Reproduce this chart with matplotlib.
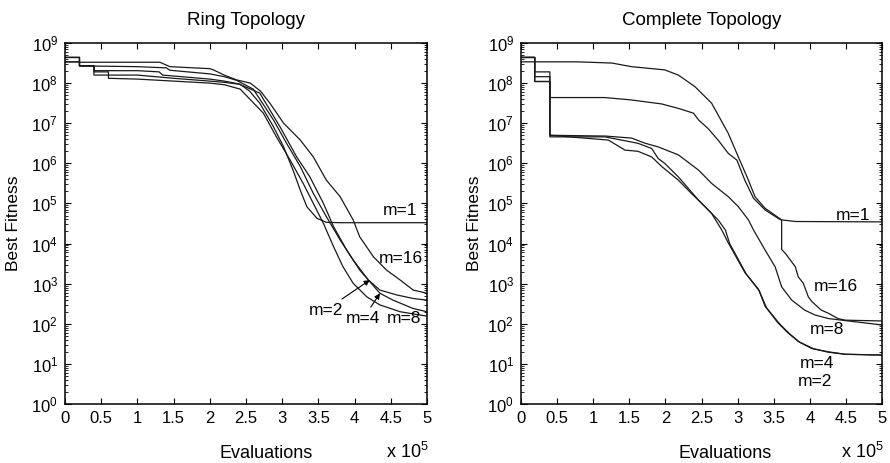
import numpy as np
import matplotlib
matplotlib.use("Agg")
import matplotlib.pyplot as plt

plt.rcParams['font.family'] = ['Liberation Sans', 'DejaVu Sans']
plt.rcParams['mathtext.fontset'] = 'custom'
plt.rcParams['mathtext.rm'] = 'Liberation Sans'

# evaluations in units of 1e5, best fitness as log10 values
#region Ring topology data
ring_m1_x = [0, 0.2, 0.2, 0.4, 0.4, 1.0, 1.5, 2.0, 2.2, 2.42, 2.55, 2.69, 2.88, 3.02, 3.15, 3.25, 3.34, 3.48, 3.61, 3.8, 4.5, 5.0]
ring_m1_y = [8.53, 8.53, 8.43, 8.43, 8.20, 8.20, 8.12, 8.05, 8.02, 7.97, 7.8, 7.5, 6.91, 6.41, 5.83, 5.33, 4.92, 4.63, 4.53, 4.52, 4.52, 4.52]

ring_m2_x = [0, 0.2, 0.2, 1.0, 1.4, 1.45, 2.0, 2.2, 2.37, 2.6, 2.88, 3.06, 3.25, 3.43, 3.61, 3.80, 3.98, 4.19, 4.35, 4.58, 4.81, 5.0]
ring_m2_y = [8.64, 8.64, 8.43, 8.41, 8.38, 8.32, 8.23, 8.16, 8.07, 7.85, 7.08, 6.50, 5.92, 5.25, 4.67, 4.09, 3.59, 3.09, 2.84, 2.72, 2.63, 2.59]

ring_m4_x = [0, 0.2, 0.2, 0.4, 0.4, 1.0, 1.3, 1.35, 2.0, 2.2, 2.4, 2.69, 2.97, 3.20, 3.38, 3.57, 3.71, 3.89, 4.07, 4.35, 4.53, 4.81, 5.0]
ring_m4_y = [8.64, 8.64, 8.43, 8.43, 8.31, 8.31, 8.28, 8.2, 8.10, 8.05, 7.98, 7.75, 6.91, 6.16, 5.67, 5.0, 4.42, 3.84, 3.34, 2.76, 2.59, 2.38, 2.30]

ring_m8_x = [0, 0.2, 0.2, 0.4, 0.4, 0.6, 0.6, 1.0, 1.4, 2.0, 2.2, 2.42, 2.74, 2.92, 3.11, 3.29, 3.43, 3.57, 3.71, 3.84, 3.98, 4.17, 4.35, 4.63, 5.0]
ring_m8_y = [8.53, 8.53, 8.43, 8.43, 8.28, 8.28, 8.12, 8.10, 8.06, 8.0, 7.96, 7.85, 7.25, 6.66, 6.08, 5.50, 5.0, 4.50, 3.92, 3.42, 3.01, 2.67, 2.47, 2.30, 2.19]

ring_m16_x = [0, 0.2, 0.2, 1.0, 1.31, 1.45, 2.0, 2.05, 2.2, 2.37, 2.56, 2.7, 2.83, 3.02, 3.25, 3.43, 3.61, 3.80, 3.98, 4.07, 4.26, 4.44, 4.63, 4.81, 5.0]
ring_m16_y = [8.64, 8.64, 8.52, 8.52, 8.52, 8.41, 8.36, 8.33, 8.2, 8.08, 8.0, 7.8, 7.5, 7.0, 6.58, 6.16, 5.58, 5.17, 4.59, 4.17, 3.67, 3.34, 3.09, 2.84, 2.76]
#endregion

#region Complete topology data
comp_m1_x = [0, 0.79, 1.26, 1.53, 1.99, 2.18, 2.41, 2.64, 2.87, 3.01, 3.15, 3.24, 3.38, 3.61, 3.80, 5.0]
comp_m1_y = [8.53, 8.53, 8.50, 8.41, 8.33, 8.20, 7.91, 7.50, 6.75, 6.16, 5.58, 5.17, 4.88, 4.59, 4.55, 4.54]

comp_m2_x = [0, 0.19, 0.19, 0.40, 0.40, 1.16, 1.62, 1.81, 1.90, 1.99, 2.18, 2.46, 2.64, 2.78, 2.87, 3.10, 3.29, 3.38, 3.56, 3.70, 3.84, 4.03, 4.26, 4.49, 5.0]
comp_m2_y = [8.64, 8.64, 8.04, 8.04, 6.66, 6.66, 6.50, 6.37, 6.12, 6.0, 5.66, 5.08, 4.75, 4.34, 4.02, 3.28, 2.86, 2.44, 2.02, 1.77, 1.56, 1.38, 1.30, 1.24, 1.22]

comp_m4_x = [0, 0.19, 0.19, 0.40, 0.40, 1.21, 1.44, 1.62, 1.81, 1.95, 2.18, 2.36, 2.55, 2.73, 2.83, 2.89, 3.12, 3.30, 3.40, 3.58, 3.72, 3.86, 4.05, 4.26, 4.49, 5.0]
comp_m4_y = [8.64, 8.64, 8.04, 8.04, 6.70, 6.58, 6.33, 6.30, 6.16, 5.92, 5.58, 5.25, 4.92, 4.59, 4.34, 4.0, 3.24, 2.82, 2.40, 2.0, 1.75, 1.54, 1.38, 1.29, 1.24, 1.22]

comp_m8_x = [0, 0.19, 0.19, 0.40, 0.40, 1.17, 1.53, 1.72, 1.90, 2.18, 2.46, 2.64, 2.87, 3.01, 3.15, 3.22, 3.38, 3.52, 3.61, 3.75, 3.93, 4.07, 4.26, 4.49, 5.0]
comp_m8_y = [8.64, 8.64, 8.28, 8.28, 6.70, 6.68, 6.63, 6.50, 6.41, 6.21, 5.83, 5.50, 5.17, 4.92, 4.59, 4.34, 3.84, 3.42, 2.92, 2.59, 2.34, 2.22, 2.13, 2.08, 1.97]

comp_m16_x = [0, 0.19, 0.19, 0.40, 0.40, 1.16, 1.53, 1.95, 2.18, 2.39, 2.46, 2.59, 2.73, 2.87, 2.99, 3.10, 3.22, 3.38, 3.56, 3.61, 3.61, 3.66, 3.80, 3.84, 3.91, 3.98, 4.03, 4.16, 4.26, 4.39, 4.49, 5.0]
comp_m16_y = [8.64, 8.64, 8.16, 8.16, 7.64, 7.64, 7.58, 7.48, 7.37, 7.25, 7.08, 6.87, 6.58, 6.25, 6.08, 5.58, 5.13, 4.84, 4.63, 4.58, 3.85, 3.76, 3.42, 3.17, 3.01, 2.67, 2.55, 2.34, 2.26, 2.13, 2.09, 2.07]
#endregion

xtick_vals = [0, 0.5, 1, 1.5, 2, 2.5, 3, 3.5, 4, 4.5, 5]
xtick_labels = ['0', '0.5', '1', '1.5', '2', '2.5', '3', '3.5', '4', '4.5', '5']

ring_curves = [(ring_m1_x, ring_m1_y), (ring_m2_x, ring_m2_y), (ring_m4_x, ring_m4_y),
               (ring_m8_x, ring_m8_y), (ring_m16_x, ring_m16_y)]
comp_curves = [(comp_m1_x, comp_m1_y), (comp_m2_x, comp_m2_y), (comp_m4_x, comp_m4_y),
               (comp_m8_x, comp_m8_y), (comp_m16_x, comp_m16_y)]

# label positions (x, log10 y)
ring_labels = [("m=1", 4.63, 4.82), ("m=16", 4.64, 3.63), ("m=8", 4.68, 2.13)]
ring_arrows = [("m=2", 3.60, 2.34, 4.21, 3.09), ("m=4", 4.12, 2.13, 4.35, 2.76)]
comp_labels = [("m=1", 4.6, 4.71), ("m=16", 4.36, 2.92), ("m=8", 4.24, 1.86),
               ("m=4", 4.1, 1.0), ("m=2", 4.07, 0.55)]

TICK_FS = 12
TITLE_FS = 13.5
LAB_FS = 12.5

fig = plt.figure(figsize=(8.9, 4.63), dpi=100)
ax1 = fig.add_axes([65 / 890, 59 / 463, 362 / 890, 361 / 463])
ax2 = fig.add_axes([521 / 890, 59 / 463, 361 / 890, 361 / 463])


def style_axes(ax, title, ylab_x, xlab_x):
    ax.set_yscale('log')
    ax.set_xlim(0, 5)
    ax.set_ylim(1, 1e9)
    ax.set_xticks(xtick_vals)
    ax.set_xticklabels(xtick_labels)
    ax.set_yticks([10.0 ** k for k in range(10)])
    ax.tick_params(which='both', direction='in', top=True, right=True, labelsize=TICK_FS)
    ax.tick_params(which='major', length=4.5, width=0.8, pad=5)
    ax.tick_params(which='minor', length=2.2, width=0.6)
    ax.tick_params(axis='x', which='minor', bottom=False, top=False)
    for s in ax.spines.values():
        s.set_linewidth(1.1)
    ax.set_title(title, fontsize=TITLE_FS, pad=13)
    ax.set_ylabel('Best Fitness', fontsize=LAB_FS, va='center')
    ax.yaxis.set_label_coords(ylab_x, 0.5)
    ax.text(xlab_x, -0.150, 'Evaluations', transform=ax.transAxes,
            ha='center', va='baseline', fontsize=13)
    ax.text(1.005, -0.150, r'x 10$^{5}$', transform=ax.transAxes,
            ha='right', va='baseline', fontsize=13)


for x, y in ring_curves:
    ax1.plot(x, 10.0 ** np.array(y), color='#1a1a1a', lw=0.9)
for x, y in comp_curves:
    ax2.plot(x, 10.0 ** np.array(y), color='#1a1a1a', lw=0.9)

style_axes(ax1, 'Ring Topology', -0.141, 0.555)
style_axes(ax2, 'Complete Topology', -0.130, 0.565)

for txt, lx, ly in ring_labels:
    ax1.text(lx, 10 ** ly, txt, ha='center', va='center', fontsize=LAB_FS)
for txt, lx, ly, tx, ty in ring_arrows:
    ax1.annotate(txt, xy=(tx, 10 ** ty), xytext=(lx, 10 ** ly), ha='center', va='center',
                 fontsize=LAB_FS,
                 arrowprops=dict(arrowstyle='-|>', color='black', lw=0.8,
                                 mutation_scale=8, shrinkA=1, shrinkB=0))
for txt, lx, ly in comp_labels:
    ax2.text(lx, 10 ** ly, txt, ha='center', va='center', fontsize=LAB_FS)

fig.savefig('out.png', dpi=100)
